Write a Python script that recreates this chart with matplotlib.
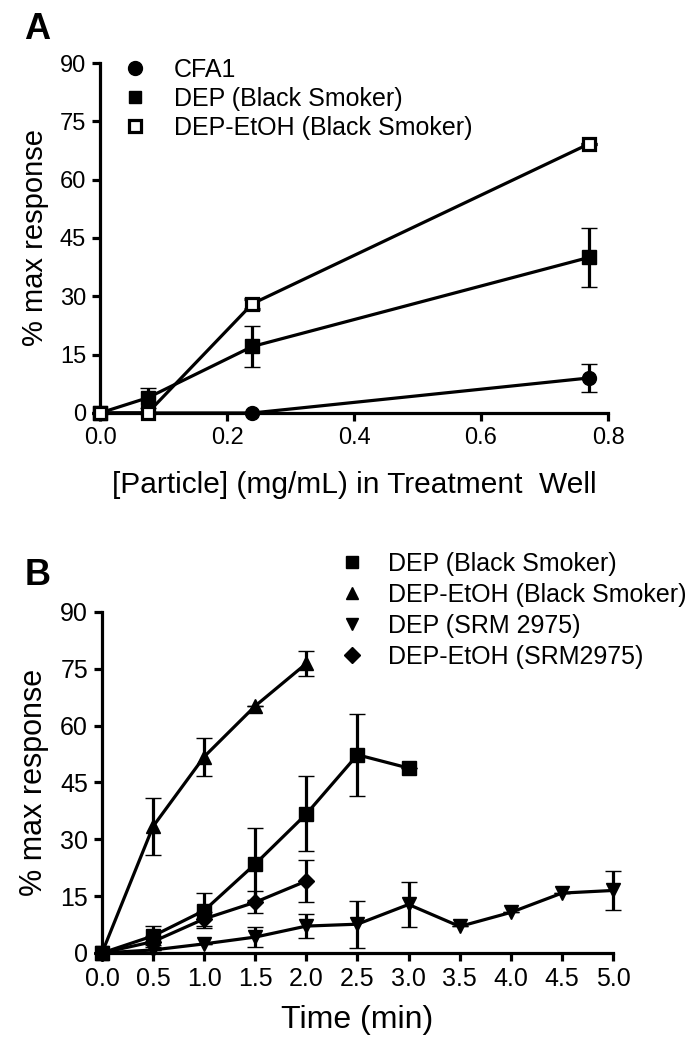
import matplotlib
matplotlib.use("Agg")
import matplotlib.pyplot as plt
from matplotlib.lines import Line2D

plt.rcParams['font.family'] = ['Liberation Sans', 'DejaVu Sans']

# ---- Panel A data: concentration response ----
cfa1_x = [0, 0.24, 0.77]
cfa1_y = [0, 0, 9.0]
cfa1_err = [0, 0, 3.7]

dep_a_x = [0, 0.075, 0.24, 0.77]
dep_a_y = [0, 3.9, 17.1, 40.0]
dep_a_err = [0, 2.5, 5.2, 7.5]

etoh_a_x = [0, 0.075, 0.24, 0.77]
etoh_a_y = [0, 0, 28.1, 69.2]
etoh_a_err = [0, 0, 1.3, 0]

labels_a = ['CFA1', 'DEP (Black Smoker)', 'DEP-EtOH (Black Smoker)']
xticks_a = [0.0, 0.2, 0.4, 0.6, 0.8]
yticks = [0, 15, 30, 45, 60, 75, 90]

# ---- Panel B data: time course ----
dep_bs_t = [0, 0.5, 1.0, 1.5, 2.0, 2.5, 3.0]
dep_bs_y = [0, 4.5, 11.2, 23.5, 36.7, 52.3, 48.8]
dep_bs_err = [0, 2.5, 4.7, 9.6, 9.9, 10.8, 0]

etoh_bs_t = [0, 0.5, 1.0, 1.5, 2.0]
etoh_bs_y = [0, 33.4, 51.8, 65.2, 76.4]
etoh_bs_err = [0, 7.6, 5.0, 0, 3.2]

dep_srm_t = [0, 0.5, 1.0, 1.5, 2.0, 2.5, 3.0, 3.5, 4.0, 4.5, 5.0]
dep_srm_y = [0, 0.8, 2.4, 4.2, 7.1, 7.6, 12.8, 7.0, 10.7, 15.8, 16.5]
dep_srm_err = [0, 0, 0, 2.6, 3.1, 6.2, 5.9, 0, 0, 0, 5.1]

etoh_srm_t = [0, 0.5, 1.0, 1.5, 2.0]
etoh_srm_y = [0, 3.0, 9.0, 13.4, 19.0]
etoh_srm_err = [0, 1.5, 1.8, 2.9, 5.6]

labels_b = ['DEP (Black Smoker)', 'DEP-EtOH (Black Smoker)', 'DEP (SRM 2975)', 'DEP-EtOH (SRM2975)']
xticks_b = [0.0, 0.5, 1.0, 1.5, 2.0, 2.5, 3.0, 3.5, 4.0, 4.5, 5.0]

LW = 2.3


def series(ax, x, y, err, marker, ms, mfc='black', mew=1.0):
    ax.errorbar(x, y, yerr=err, color='black', lw=LW, elinewidth=LW,
                capsize=5.5, capthick=LW, marker=marker, ms=ms,
                mfc=mfc, mec='black', mew=mew, clip_on=False, zorder=3)


def style_axis(ax, tick_size):
    for s in ['top', 'right']:
        ax.spines[s].set_visible(False)
    for s in ['left', 'bottom']:
        ax.spines[s].set_linewidth(2.3)
    ax.tick_params(direction='out', length=6, width=2.3, labelsize=tick_size, pad=4)


fig = plt.figure(figsize=(6.98, 10.5), dpi=100)

# Panel A
axA = fig.add_axes([0.1433, 0.6067, 0.7278, 0.3333])
series(axA, cfa1_x, cfa1_y, cfa1_err, 'o', 10)
series(axA, dep_a_x, dep_a_y, dep_a_err, 's', 9.5)
series(axA, etoh_a_x, etoh_a_y, etoh_a_err, 's', 9, mfc='white', mew=2.3)
axA.set_xlim(0, 0.8)
axA.set_ylim(0, 90)
axA.set_xticks(xticks_a)
axA.set_xticklabels([f'{v:.1f}' for v in xticks_a])
axA.set_yticks(yticks)
style_axis(axA, 17)
axA.set_xlabel('[Particle] (mg/mL) in Treatment  Well', fontsize=21.5, labelpad=16)
axA.set_ylabel('% max response', fontsize=21, labelpad=8)

handles_a = [Line2D([], [], ls='none', marker='o', ms=10, color='black'),
             Line2D([], [], ls='none', marker='s', ms=9, color='black'),
             Line2D([], [], ls='none', marker='s', ms=8.5, mfc='white', mec='black', mew=2.3)]
axA.legend(handles_a, labels_a, loc='upper left', bbox_to_anchor=(0.16, 0.957),
           bbox_transform=fig.transFigure, frameon=False, fontsize=18,
           handlelength=0.9, handletextpad=1.1, labelspacing=0.2, borderpad=0)

# Panel B
axB = fig.add_axes([0.1461, 0.0924, 0.7321, 0.3248])
series(axB, dep_bs_t, dep_bs_y, dep_bs_err, 's', 10)
series(axB, etoh_bs_t, etoh_bs_y, etoh_bs_err, '^', 10)
series(axB, dep_srm_t, dep_srm_y, dep_srm_err, 'v', 10)
series(axB, etoh_srm_t, etoh_srm_y, etoh_srm_err, 'D', 8.5)
axB.set_xlim(0, 5)
axB.set_ylim(0, 90)
axB.set_xticks(xticks_b)
axB.set_xticklabels([f'{v:.1f}' for v in xticks_b])
axB.set_yticks(yticks)
style_axis(axB, 18)
axB.set_xlabel('Time (min)', fontsize=23, labelpad=10)
axB.set_ylabel('% max response', fontsize=22, labelpad=8)

handles_b = [Line2D([], [], ls='none', marker='s', ms=9, color='black'),
             Line2D([], [], ls='none', marker='^', ms=9, color='black'),
             Line2D([], [], ls='none', marker='v', ms=9, color='black'),
             Line2D([], [], ls='none', marker='D', ms=8, color='black')]
axB.legend(handles_b, labels_b, loc='upper left', bbox_to_anchor=(0.47, 0.486),
           bbox_transform=fig.transFigure, frameon=False, fontsize=18,
           handlelength=0.9, handletextpad=1.0, labelspacing=0.28, borderpad=0)

fig.text(0.035, 0.972, 'A', fontsize=26, fontweight='bold', va='center', ha='left')
fig.text(0.035, 0.452, 'B', fontsize=26, fontweight='bold', va='center', ha='left')

fig.savefig('out.png', dpi=100)
